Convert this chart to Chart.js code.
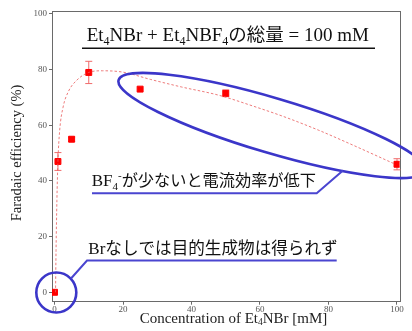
<!DOCTYPE html>
<html>
<head>
<meta charset="utf-8">
<script src="https://cdn.jsdelivr.net/npm/chart.js@4/dist/chart.umd.min.js"></script>
<style>
  html, body { margin: 0; padding: 0; background: #fff; }
  #c { display: block; }
</style>
</head>
<body>
<canvas id="c" width="412" height="331"></canvas>
<script>
// Measured Faradaic efficiency vs. Et4NBr concentration (total salt fixed at 100 mM)
const concentration = [0, 1, 5, 10, 25, 50, 100];
const efficiency    = [0, 47, 55, 79, 73, 71.5, 46];
const errorBar      = [0, 3.2, 0.8, 4, 0, 1.2, 2];

// Guide curve through the data (dotted)
const fitX = [0.3, 0.45, 0.7, 1, 1.5, 2.5, 4, 6.5, 10, 14, 20, 28, 37, 48, 58, 67, 77, 86, 99];
const fitY = [0, 15, 33, 47, 58, 66.5, 72, 76.2, 79, 79.6, 79.1, 76.5, 73.8, 70.8, 66.9, 63.1, 58.3, 53.5, 46.3];

// Axis ticks
const xTicks = [0, 20, 40, 60, 80, 100];
const yTicks = [0, 20, 40, 60, 80, 100];

const SERIF = '"Liberation Serif", "Times New Roman", serif';
const JP = '"Noto Sans CJK JP", "Noto Sans", sans-serif';

function drawRuns(ctx, x, y, runs, align) {
  let total = 0;
  runs.forEach(r => { ctx.font = r.font; total += ctx.measureText(r.t).width; });
  let cx = align === 'center' ? x - total / 2 : x;
  ctx.textAlign = 'left';
  ctx.textBaseline = 'alphabetic';
  runs.forEach(r => {
    ctx.font = r.font;
    ctx.fillText(r.t, cx, y + (r.dy || 0));
    cx += ctx.measureText(r.t).width;
  });
  return total;
}

const errorBarsPlugin = {
  id: 'errorBars',
  beforeDatasetDraw(chart, args) {
    if (args.index !== 1) return;
    const { ctx, scales: { x, y } } = chart;
    ctx.save();
    ctx.strokeStyle = '#f06a6a';
    ctx.lineWidth = 1;
    concentration.forEach((c, i) => {
      const e = errorBar[i];
      if (!e) return;
      const px = x.getPixelForValue(c);
      const top = y.getPixelForValue(efficiency[i] + e);
      const bot = y.getPixelForValue(efficiency[i] - e);
      ctx.beginPath();
      ctx.moveTo(px, top); ctx.lineTo(px, bot);
      ctx.moveTo(px - 3.5, top); ctx.lineTo(px + 3.5, top);
      ctx.moveTo(px - 3.5, bot); ctx.lineTo(px + 3.5, bot);
      ctx.stroke();
    });
    ctx.restore();
  }
};

const framePlugin = {
  id: 'frame',
  beforeDatasetsDraw(chart) {
    const { ctx, chartArea: a } = chart;
    ctx.save();
    ctx.strokeStyle = '#6a6a6a';
    ctx.lineWidth = 1;
    ctx.strokeRect(Math.round(a.left) + 0.5, Math.round(a.top) + 0.5,
                   Math.round(a.right - a.left), Math.round(a.bottom - a.top));
    ctx.restore();
  }
};

const notesPlugin = {
  id: 'notes',
  afterDraw(chart) {
    const { ctx } = chart;
    ctx.save();

    // axis titles
    ctx.fillStyle = '#222';
    drawRuns(ctx, 233.5, 322.5, [
      { t: 'Concentration of Et', font: '15px ' + SERIF },
      { t: '4', font: '9.5px ' + SERIF, dy: 2 },
      { t: 'NBr [mM]', font: '15px ' + SERIF }
    ], 'center');

    ctx.save();
    ctx.translate(21, 153);
    ctx.rotate(-Math.PI / 2);
    ctx.font = '14.5px ' + SERIF;
    ctx.textAlign = 'center';
    ctx.textBaseline = 'alphabetic';
    ctx.fillText('Faradaic efficiency (%)', 0, 0);
    ctx.restore();

    // heading inside the plot
    ctx.fillStyle = '#111';
    drawRuns(ctx, 86.7, 40.5, [
      { t: 'Et', font: '19px ' + SERIF },
      { t: '4', font: '12px ' + SERIF, dy: 4 },
      { t: 'NBr + Et', font: '19px ' + SERIF },
      { t: '4', font: '12px ' + SERIF, dy: 4 },
      { t: 'NBF', font: '19px ' + SERIF },
      { t: '4', font: '12px ' + SERIF, dy: 4 },
      { t: 'の総量', font: '18.5px ' + JP },
      { t: ' = 100 mM', font: '19px ' + SERIF }
    ]);
    ctx.strokeStyle = '#111';
    ctx.lineWidth = 1.4;
    ctx.beginPath();
    ctx.moveTo(82, 48.3); ctx.lineTo(375, 48.3);
    ctx.stroke();

    // highlight ellipse around the high-concentration points
    ctx.strokeStyle = '#3b36c9';
    ctx.lineWidth = 2.6;
    ctx.beginPath();
    ctx.ellipse(272, 125.5, 160, 27.5, 16.5 * Math.PI / 180, 0, Math.PI * 2);
    ctx.stroke();

    // circle around the zero point
    ctx.beginPath();
    ctx.arc(56.3, 292.5, 20, 0, Math.PI * 2);
    ctx.stroke();

    // callout lines
    ctx.strokeStyle = '#4a45d0';
    ctx.lineWidth = 2;
    ctx.beginPath();
    ctx.moveTo(92, 193.3); ctx.lineTo(316.7, 193.3); ctx.lineTo(343, 170.5);
    ctx.stroke();
    ctx.beginPath();
    ctx.moveTo(71, 278.5); ctx.lineTo(87, 260.5); ctx.lineTo(336.7, 260.5);
    ctx.stroke();

    // callout texts
    ctx.fillStyle = '#111';
    drawRuns(ctx, 91.7, 186, [
      { t: 'BF', font: '17px ' + SERIF },
      { t: '4', font: '11px ' + SERIF, dy: 4 },
      { t: '-', font: '11px ' + SERIF, dy: -7 },
      { t: 'が少ないと電流効率が低下', font: '16.2px ' + JP }
    ]);
    drawRuns(ctx, 88.3, 254, [
      { t: 'Br', font: '17px ' + SERIF },
      { t: 'なしでは目的生成物は得られず', font: '16.6px ' + JP }
    ]);

    ctx.restore();
  }
};

new Chart(document.getElementById('c'), {
  type: 'scatter',
  data: {
    datasets: [
      {
        data: fitX.map((x, i) => ({ x, y: fitY[i] })),
        showLine: true,
        borderColor: 'rgba(232, 90, 90, 0.8)',
        borderWidth: 1,
        borderDash: [2.5, 2],
        pointRadius: 0,
        cubicInterpolationMode: 'monotone',
        fill: false
      },
      {
        data: concentration.map((x, i) => ({ x, y: efficiency[i] })),
        pointStyle: 'rect',
        pointRadius: 4.2,
        pointBorderWidth: 1,
        backgroundColor: '#ff0000',
        borderColor: '#ff0000'
      }
    ]
  },
  options: {
    responsive: false,
    devicePixelRatio: 1,
    animation: false,
    events: [],
    layout: { padding: { left: 0, right: 12.5, top: 11.3, bottom: 0 } },
    plugins: { legend: { display: false }, tooltip: { enabled: false } },
    scales: {
      x: {
        type: 'linear',
        min: -0.73, max: 100.73,
        afterFit(s) { s.height = 29.3; },
        afterBuildTicks(s) { s.ticks = xTicks.map(v => ({ value: v })); },
        border: { display: false },
        grid: { drawOnChartArea: false, drawTicks: true, tickLength: 3, color: '#6a6a6a' },
        ticks: { font: { family: SERIF, size: 9 }, color: '#555', padding: 0, maxRotation: 0 }
      },
      y: {
        type: 'linear',
        min: -3.38, max: 100.97,
        afterFit(s) { s.width = 52; },
        afterBuildTicks(s) { s.ticks = yTicks.map(v => ({ value: v })); },
        border: { display: false },
        grid: { drawOnChartArea: false, drawTicks: true, tickLength: 3, color: '#6a6a6a' },
        ticks: { font: { family: SERIF, size: 9 }, color: '#555', padding: 2 }
      }
    }
  },
  plugins: [framePlugin, errorBarsPlugin, notesPlugin]
});
</script>
</body>
</html>
